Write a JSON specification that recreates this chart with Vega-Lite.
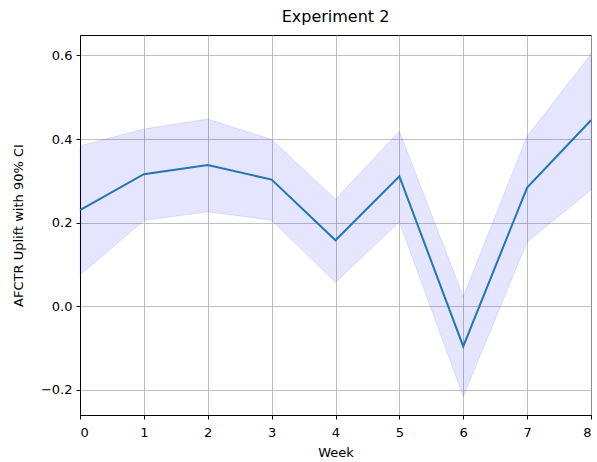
{
  "$schema": "https://vega.github.io/schema/vega-lite/v6.json",
  "width": 511,
  "height": 380,
  "autosize": {"type": "none"},
  "padding": {"left": 80, "top": 35, "right": 6, "bottom": 47},
  "background": "white",
  "title": {"text": "Experiment 2", "font": "DejaVu Sans", "fontSize": 16, "fontWeight": "normal", "color": "black", "offset": 10, "anchor": "middle"},
  "config": {
    "view": {"stroke": "black", "strokeWidth": 1},
    "axis": {
      "labelFont": "DejaVu Sans", "labelFontSize": 13, "labelColor": "black",
      "titleFont": "DejaVu Sans", "titleFontSize": 13, "titleFontWeight": "normal", "titleColor": "black",
      "domainColor": "black", "tickColor": "black", "tickSize": 4,
      "gridColor": "#b0b0b0", "gridWidth": 0.8, "labelPadding": 4
    }
  },
  "data": {"values": [
    {"week": 0, "uplift": 0.230, "lower": 0.075, "upper": 0.384},
    {"week": 1, "uplift": 0.316, "lower": 0.205, "upper": 0.424},
    {"week": 2, "uplift": 0.338, "lower": 0.226, "upper": 0.448},
    {"week": 3, "uplift": 0.303, "lower": 0.206, "upper": 0.399},
    {"week": 4, "uplift": 0.158, "lower": 0.057, "upper": 0.256},
    {"week": 5, "uplift": 0.311, "lower": 0.202, "upper": 0.419},
    {"week": 6, "uplift": -0.096, "lower": -0.216, "upper": 0.023},
    {"week": 7, "uplift": 0.284, "lower": 0.154, "upper": 0.407},
    {"week": 8, "uplift": 0.445, "lower": 0.278, "upper": 0.603}
  ]},
  "encoding": {
    "x": {"field": "week", "type": "quantitative",
      "scale": {"domain": [0, 8], "nice": false, "zero": false},
      "axis": {"title": "Week", "values": [0,1,2,3,4,5,6,7,8], "format": "d", "labelPadding": 7, "titlePadding": 7, "grid": true}}
  },
  "layer": [
    {
      "mark": {"type": "area", "color": "blue", "fillOpacity": 0.1, "stroke": "blue", "strokeOpacity": 0.1, "strokeWidth": 1},
      "encoding": {
        "y": {"field": "upper", "type": "quantitative",
          "scale": {"domain": [-0.260, 0.649], "nice": false, "zero": false},
          "axis": {"title": "AFCTR Uplift with 90% CI", "values": [-0.2, 0, 0.2, 0.4, 0.6], "format": ".1f",
            "labelExpr": "replace(datum.label, '-', '−')", "titlePadding": 15, "grid": true}},
        "y2": {"field": "lower"}
      }
    },
    {
      "mark": {"type": "line", "color": "#1f77b4", "strokeWidth": 2},
      "encoding": {
        "y": {"field": "uplift", "type": "quantitative"}
      }
    }
  ]
}
